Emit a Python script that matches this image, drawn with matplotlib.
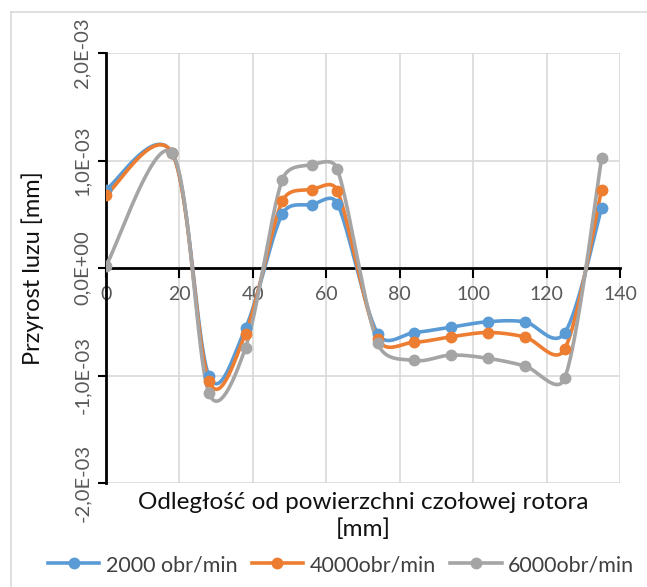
import numpy as np
import matplotlib.pyplot as plt
from matplotlib.lines import Line2D
from matplotlib.ticker import FuncFormatter

plt.rcParams['font.family'] = ['Lato', 'DejaVu Sans']

# data
x = [0, 18, 28, 38, 48, 56, 63, 74, 84, 94, 104, 114, 125, 135]
y2000 = [0.73, 1.07, -1.00, -0.56, 0.50, 0.59, 0.60, -0.61, -0.60, -0.55, -0.50, -0.50, -0.60, 0.56]
y4000 = [0.68, 1.07, -1.05, -0.61, 0.62, 0.73, 0.72, -0.66, -0.69, -0.64, -0.60, -0.64, -0.75, 0.73]
y6000 = [0.02, 1.07, -1.16, -0.74, 0.82, 0.96, 0.92, -0.70, -0.86, -0.81, -0.84, -0.91, -1.02, 1.02]
labels = ['2000 obr/min', '4000obr/min', '6000obr/min']
colors = ['#5B9BD5', '#ED7D31', '#A5A5A5']

# pixels per data unit, the smoothing works in screen space like Excel
SX = 514 / 140
SY = 430 / 4.0


def smooth(xs, ys, n=40):
    p = np.column_stack([np.array(xs) * SX, np.array(ys) * SY]).astype(float)
    m = len(p)
    out = []
    tt = np.linspace(0, 1, n)[:, None]
    for i in range(m - 1):
        p0 = p[i - 1] if i > 0 else p[i]
        p1, p2 = p[i], p[i + 1]
        p3 = p[i + 2] if i + 2 < m else p[i + 1]
        d02 = np.linalg.norm(p2 - p0)
        d12 = np.linalg.norm(p2 - p1)
        d13 = np.linalg.norm(p3 - p1)
        f0 = 1 / 6 if d02 / 6 < d12 / 2 else d12 / (2 * d02)
        f1 = 1 / 6 if d13 / 6 < d12 / 2 else d12 / (2 * d13)
        c1 = p1 + f0 * (p2 - p0)
        c2 = p2 - f1 * (p3 - p1)
        seg = ((1 - tt) ** 3 * p1 + 3 * (1 - tt) ** 2 * tt * c1
               + 3 * (1 - tt) * tt ** 2 * c2 + tt ** 3 * p2)
        out.append(seg if i == 0 else seg[1:])
    out = np.vstack(out)
    return out[:, 0] / SX, out[:, 1] / SY


fig = plt.figure(figsize=(6.47, 5.87), dpi=100)
ax = fig.add_axes([106 / 647, 1 - 483 / 587, 514 / 647, 430 / 587])

for ys, lab, c in zip([y2000, y4000, y6000], labels, colors):
    sx, sy = smooth(x, ys)
    ax.plot(sx, sy * 1e-3, color=c, lw=2.6, solid_capstyle='round', zorder=3)
    ax.plot(x, np.array(ys) * 1e-3, 'o', color=c, ms=7.5, zorder=4)

ax.set_xlim(0, 140)
ax.set_ylim(-2e-3, 2e-3)
ax.set_xticks(range(0, 141, 20))
ax.set_yticks([-2e-3, -1e-3, 0, 1e-3, 2e-3])
ax.yaxis.set_major_formatter(FuncFormatter(
    lambda v, p: ('%.1E' % v).replace('.', ',') if v != 0 else '0,0E+00'))
ax.grid(True, color='#D9D9D9', lw=1.2, zorder=0)

for s in ['top', 'right']:
    ax.spines[s].set_visible(False)
ax.spines['bottom'].set_position(('data', 0))
ax.spines['bottom'].set_linewidth(2)
ax.spines['left'].set_linewidth(2)
ax.tick_params(axis='x', direction='out', length=7, width=1.5, colors='black',
               labelcolor='#595959', labelsize=14, pad=6)
ax.tick_params(axis='y', direction='out', length=6, width=1.5, colors='black',
               labelcolor='#595959', labelsize=14.5, pad=5)
for lbl in ax.get_yticklabels():
    lbl.set_rotation(90)
    lbl.set_va('center')

fig.text(33 / 647, 1 - 268 / 587, 'Przyrost luzu [mm]', rotation=90,
         ha='center', va='center', fontsize=17, color='#111111')
fig.text(363 / 647, 1 - 516 / 587, 'Odległość od powierzchni czołowej rotora\n[mm]',
         ha='center', va='center', fontsize=17.5, color='#111111', linespacing=1.25)

handles = [Line2D([], [], color=c, lw=2.6, marker='o', ms=7.5) for c in colors]
fig.legend(handles, labels, loc='center', bbox_to_anchor=(341 / 647, 1 - 565 / 587), ncol=3,
           frameon=False, fontsize=15.5, handlelength=2.4, handletextpad=0.3,
           columnspacing=0.65, labelcolor='#404040', borderpad=0, borderaxespad=0)

# chart area border
fig.add_artist(Line2D([11 / 647, 11 / 647], [0, 1 - 12 / 587], color='#D9D9D9', lw=1.2))
fig.add_artist(Line2D([11 / 647, 1], [1 - 12 / 587, 1 - 12 / 587], color='#D9D9D9', lw=1.2))

fig.savefig('out.png', dpi=100)
